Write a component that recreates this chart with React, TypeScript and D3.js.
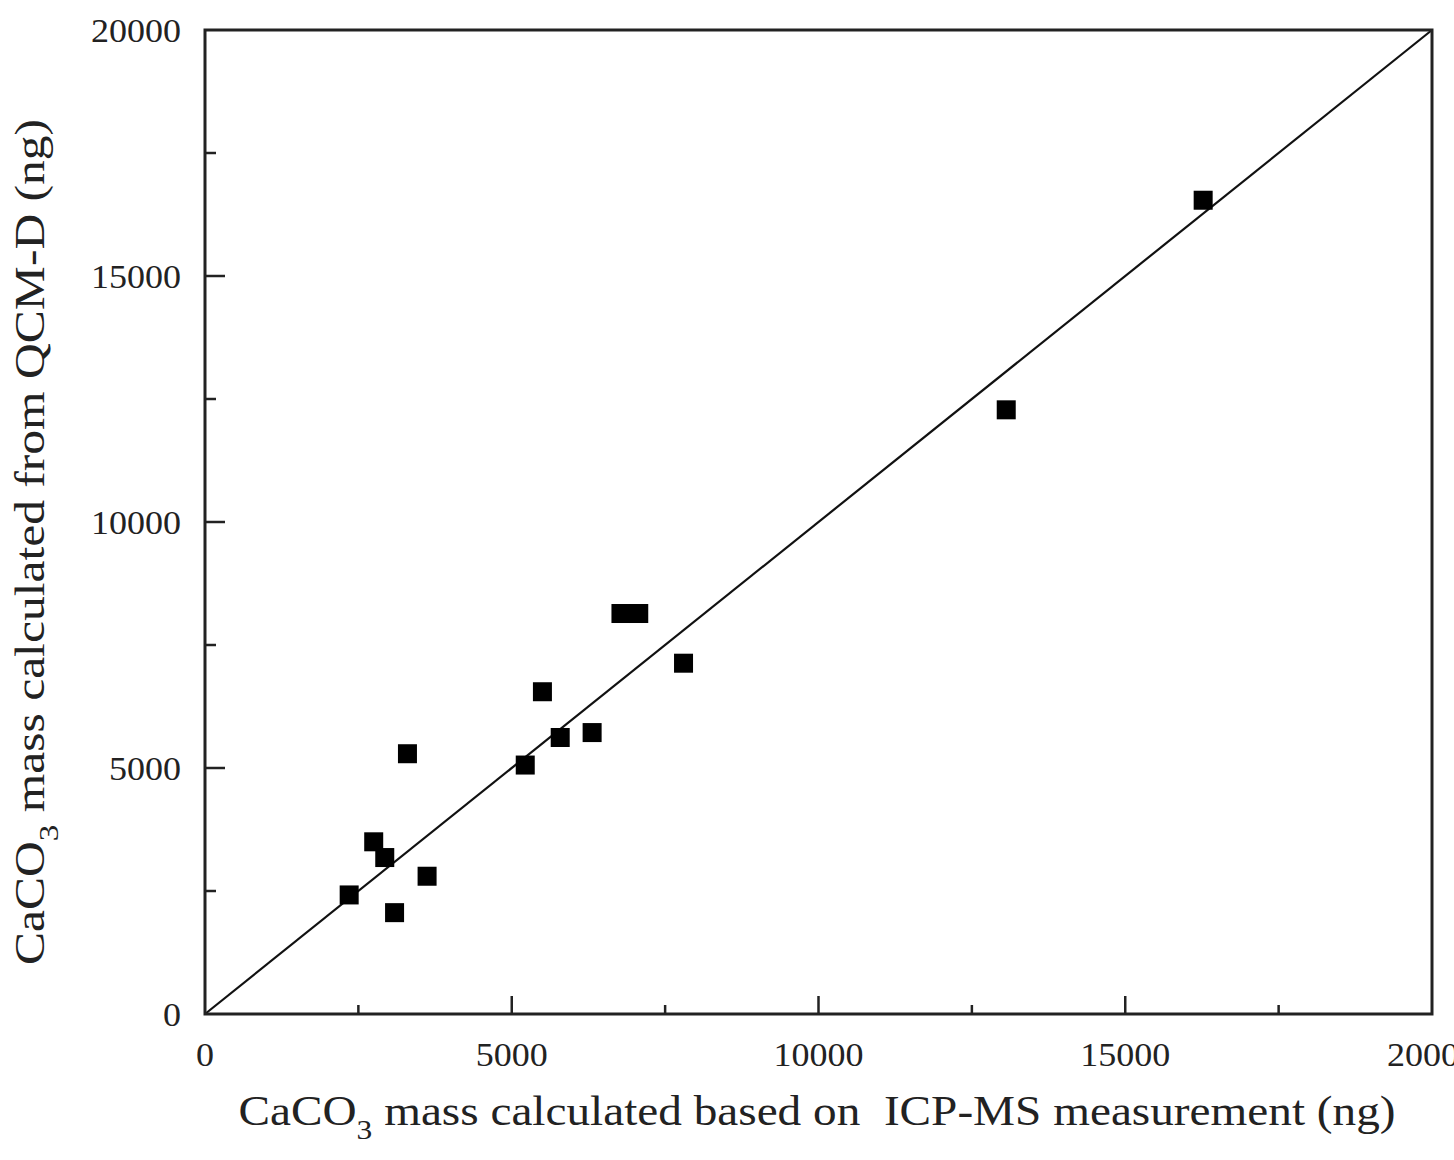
import React from "react";
import * as d3 from "d3";

const icpMass: number[] = [2350, 2750, 2930, 3090, 3300, 3620, 5220, 5500, 5790, 6310, 6780, 7070, 7800, 13060, 16270];
const qcmMass: number[] = [2420, 3500, 3180, 2060, 5290, 2800, 5060, 6550, 5620, 5720, 8140, 8140, 7130, 12280, 16540];
const majorTicks: number[] = [0, 5000, 10000, 15000, 20000];
const minorTicks: number[] = [2500, 7500, 12500, 17500];
const xTickLabels: string[] = ["0", "5000", "10000", "15000", "20000"];
const yTickLabels: string[] = ["0", "5000", "10000", "15000", "20000"];
const identityLine: number[][] = [[0, 0], [20000, 20000]];

const W = 1454;
const H = 1160;
const L = 205, R = 1432, T = 30, B = 1014;

export default function App() {
  const x = d3.scaleLinear().domain([0, 20000]).range([L, R]);
  const y = d3.scaleLinear().domain([0, 20000]).range([B, T]);
  const line = d3.line<number[]>().x(d => x(d[0])).y(d => y(d[1]));
  const font = "'Liberation Serif', 'Times New Roman', serif";
  const sq = 19;
  return (
    <svg width={W} height={H} style={{ position: "absolute", left: 0, top: 0, background: "#fff" }} fontFamily={font}>
      <rect x={0} y={0} width={W} height={H} fill="#fff" />
      <path d={line(identityLine) || ""} stroke="#111" strokeWidth={2.2} fill="none" />
      {icpMass.map((v, i) => (
        <rect key={i} x={x(v) - sq / 2} y={y(qcmMass[i]) - sq / 2} width={sq} height={sq} fill="#000" />
      ))}
      <rect x={L} y={T} width={R - L} height={B - T} fill="none" stroke="#222" strokeWidth={3} />
      {majorTicks.slice(1, -1).map(t => (
        <g key={"mx" + t}>
          <line x1={x(t)} x2={x(t)} y1={B} y2={B - 18} stroke="#222" strokeWidth={2.5} />
          <line x1={L} x2={L + 20} y1={y(t)} y2={y(t)} stroke="#222" strokeWidth={2.5} />
        </g>
      ))}
      {minorTicks.map(t => (
        <g key={"mn" + t}>
          <line x1={x(t)} x2={x(t)} y1={B} y2={B - 9} stroke="#222" strokeWidth={2.5} />
          <line x1={L} x2={L + 11} y1={y(t)} y2={y(t)} stroke="#222" strokeWidth={2.5} />
        </g>
      ))}
      {majorTicks.map((t, i) => (
        <text key={"xl" + t} transform={`translate(${x(t)},1066) scale(1.06,1)`} textAnchor="middle" fontSize={34} fill="#222">{xTickLabels[i]}</text>
      ))}
      {majorTicks.map((t, i) => (
        <text key={"yl" + t} transform={`translate(181,${y(t) + 12}) scale(1.06,1)`} textAnchor="end" fontSize={34} fill="#222">{yTickLabels[i]}</text>
      ))}
      <text transform="translate(817,1125) scale(1.125,1)" textAnchor="middle" fontSize={42} fill="#222" style={{ whiteSpace: "pre" }}>
        CaCO<tspan fontSize={28} dy={14}>3</tspan><tspan dy={-14}>{" mass calculated based on  ICP-MS measurement (ng)"}</tspan>
      </text>
      <text transform="translate(44,542) rotate(-90) scale(1.18,1)" textAnchor="middle" fontSize={42} fill="#222" style={{ whiteSpace: "pre" }}>
        CaCO<tspan fontSize={28} dy={14}>3</tspan><tspan dy={-14}>{" mass calculated from QCM-D (ng)"}</tspan>
      </text>
    </svg>
  );
}
